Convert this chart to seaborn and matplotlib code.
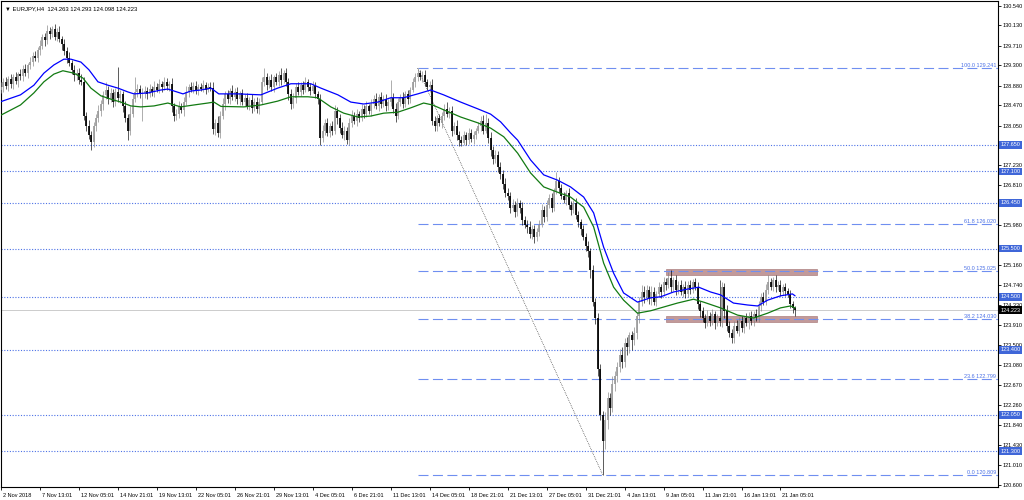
import numpy as np
import matplotlib
matplotlib.use('Agg')
import matplotlib.pyplot as plt
import seaborn as sns
from matplotlib.patches import Rectangle
from matplotlib.transforms import ScaledTranslation

# ==========================================
# 1. DATA (EURJPY H4)
# ==========================================
first_open = 128.80
closes = [
    128.85, 128.95, 128.88, 129.02, 128.92, 129.05, 128.98, 129.12, 129.08, 129.22, 129.15, 129.30, 129.38, 129.50, 129.45, 129.62, 129.70, 129.88, 129.82, 130.02,
    129.95, 130.05, 129.90, 130.00, 129.85, 129.75, 129.60, 129.45, 129.35, 129.20, 129.10, 129.15, 129.00, 128.95, 128.25, 128.05, 127.85, 127.72, 128.05, 128.20,
    128.35, 128.50, 128.68, 128.80, 128.60, 128.72, 128.55, 128.75, 128.62, 128.70, 128.45, 128.20, 127.95, 128.30, 128.60, 128.75, 128.82, 128.70, 128.72, 128.78,
    128.70, 128.82, 128.75, 128.85, 128.80, 128.92, 128.85, 128.95, 128.88, 128.92, 128.45, 128.25, 128.30, 128.45, 128.38, 128.55, 128.75, 128.85, 128.80, 128.88,
    128.78, 128.85, 128.82, 128.90, 128.80, 128.86, 128.84, 127.98, 128.10, 127.90, 128.25, 128.50, 128.70, 128.60, 128.78, 128.65, 128.75, 128.60, 128.72, 128.55,
    128.62, 128.45, 128.58, 128.42, 128.55, 128.40, 128.55, 128.95, 129.05, 128.90, 129.00, 128.85, 129.05, 128.95, 129.10, 129.00, 129.15, 128.95, 128.70, 128.50,
    128.62, 128.85, 128.75, 128.90, 128.80, 128.95, 128.85, 128.78, 128.88, 128.70, 128.60, 127.80, 127.95, 128.10, 127.90, 128.05, 127.95, 128.35, 128.20, 128.00,
    127.85, 127.95, 127.75, 128.10, 128.25, 128.15, 128.30, 128.20, 128.40, 128.30, 128.45, 128.35, 128.50, 128.60, 128.45, 128.65, 128.50, 128.60, 128.45, 128.55,
    128.62, 128.40, 128.25, 128.55, 128.65, 128.50, 128.70, 128.60, 128.80, 128.95, 129.05, 129.15, 129.05, 129.10, 128.95, 128.85, 128.90, 128.15, 128.05, 128.20,
    128.10, 128.25, 128.40, 128.30, 128.35, 127.95, 128.05, 127.85, 127.75, 127.70, 127.85, 127.75, 127.90, 127.78, 127.85, 127.95, 128.05, 128.15, 127.95, 128.10,
    127.80, 127.55, 127.35, 127.45, 127.20, 127.05, 126.85, 126.65, 126.60, 126.35, 126.40, 126.25, 126.45, 126.35, 126.10, 126.00, 125.95, 125.80, 125.90, 125.75,
    125.85, 126.00, 126.30, 126.15, 126.40, 126.55, 126.35, 126.70, 126.90, 126.75, 126.60, 126.50, 126.65, 126.40, 126.30, 126.45, 126.20, 126.05, 125.90, 125.75,
    125.55, 125.45, 125.05, 124.40, 124.05, 123.00, 122.05, 121.50, 121.95, 122.40, 122.20, 122.70, 122.85, 123.05, 123.30, 123.15, 123.55, 123.45, 123.70, 123.60,
    123.75, 124.10, 124.40, 124.60, 124.50, 124.65, 124.45, 124.60, 124.40, 124.55, 124.70, 124.60, 124.80, 124.75, 124.90, 124.70, 124.85, 124.65, 124.75, 124.60,
    124.70, 124.55, 124.75, 124.65, 124.80, 124.70, 124.35, 124.20, 124.05, 123.95, 124.10, 124.00, 124.15, 123.95, 124.05, 124.00, 124.70, 124.20, 123.90, 123.75,
    123.65, 123.90, 123.80, 124.00, 123.85, 124.05, 123.95, 124.10, 124.00, 124.15, 124.05, 124.30, 124.50, 124.40, 124.65, 124.80, 124.70, 124.85, 124.70, 124.75,
    124.60, 124.70, 124.62, 124.55, 124.35, 124.26, 124.22,
]
upper_wick = [
    .10, .08, .12, .06, .10, .08, .12, .05, .10, .08, .12, .06, .10, .08, .10, .06, .12, .08, .10, .12,
    .08, .07, .10, .08, .12, .06, .10, .08, .12, .06, .10, .08, .10, .12, .10, .08, .12, .10, .08, .10,
    .12, .08, .10, .15, .08, .12, .10, .08, .52, .10, .08, .12, .10, .15, .10, .30, .10, .08, .12, .10,
    .08, .10, .06, .12, .08, .10, .06, .10, .08, .06, .12, .08, .10, .12, .08, .10, .12, .06, .10, .08,
    .10, .06, .08, .10, .06, .08, .10, .12, .08, .15, .10, .12, .08, .10, .06, .12, .08, .10, .06, .10,
    .08, .10, .06, .12, .08, .10, .08, .12, .19, .10, .08, .12, .06, .10, .08, .15, .06, .10, .08, .12,
    .10, .08, .10, .06, .08, .10, .06, .08, .10, .08, .06, .10, .12, .08, .10, .06, .10, .12, .08, .10,
    .12, .10, .08, .10, .12, .08, .10, .06, .10, .08, .12, .06, .10, .08, .12, .06, .10, .08, .10, .06,
    .37, .10, .12, .08, .06, .10, .08, .10, .06, .08, .10, .09, .06, .08, .10, .06, .08, .12, .10, .08,
    .10, .08, .10, .15, .08, .10, .08, .12, .10, .08, .10, .06, .10, .08, .10, .06, .08, .10, .12, .20,
    .10, .12, .08, .10, .08, .10, .08, .12, .10, .08, .12, .08, .10, .06, .12, .08, .10, .12, .08, .10,
    .08, .10, .12, .08, .10, .08, .10, .06, .19, .08, .10, .08, .06, .10, .08, .06, .10, .08, .06, .10,
    .08, .10, .06, .10, .08, .12, .10, .08, .15, .12, .10, .15, .12, .10, .12, .15, .10, .12, .08, .10,
    .12, .08, .10, .15, .12, .10, .08, .12, .10, .08, .10, .06, .12, .08, .12, .16, .06, .10, .08, .10,
    .06, .12, .08, .10, .06, .08, .10, .06, .08, .10, .12, .08, .10, .06, .10, .80, .10, .08, .12, .10,
    .08, .10, .12, .08, .10, .06, .12, .08, .10, .06, .10, .12, .08, .10, .12, .15, .08, .06, .10, .08,
    .10, .06, .08, .06, .10, .06, .04,
]
lower_wick = [
    .08, .10, .06, .12, .08, .10, .06, .12, .08, .10, .06, .12, .08, .10, .06, .08, .10, .06, .12, .08,
    .10, .06, .08, .10, .06, .12, .08, .10, .06, .08, .12, .10, .08, .06, .08, .10, .08, .17, .12, .10,
    .08, .10, .12, .08, .10, .06, .12, .10, .08, .10, .12, .08, .20, .10, .08, .06, .10, .08, .55, .10,
    .10, .06, .08, .10, .06, .08, .10, .06, .08, .10, .12, .10, .08, .10, .06, .12, .08, .10, .06, .08,
    .08, .10, .06, .08, .10, .06, .08, .10, .12, .08, .10, .06, .12, .08, .10, .06, .08, .10, .12, .08,
    .10, .06, .08, .10, .06, .08, .10, .06, .08, .10, .06, .08, .10, .06, .08, .10, .06, .08, .12, .10,
    .08, .10, .06, .08, .10, .06, .08, .10, .06, .08, .10, .15, .08, .10, .06, .08, .10, .08, .12, .10,
    .06, .10, .08, .10, .08, .06, .10, .08, .06, .10, .08, .06, .10, .08, .06, .10, .08, .06, .10, .08,
    .10, .08, .12, .06, .10, .08, .06, .10, .08, .06, .10, .08, .06, .10, .08, .06, .10, .08, .12, .10,
    .06, .10, .08, .06, .10, .12, .08, .10, .12, .08, .06, .10, .08, .06, .10, .08, .06, .10, .08, .06,
    .10, .12, .10, .08, .12, .10, .12, .08, .10, .12, .08, .10, .08, .12, .10, .08, .12, .08, .10, .13,
    .10, .08, .06, .10, .08, .06, .10, .08, .06, .10, .08, .06, .10, .08, .10, .06, .08, .10, .12, .08,
    .10, .12, .15, .10, .12, .15, .10, .69, .15, .20, .15, .10, .15, .12, .10, .12, .10, .15, .12, .20,
    .10, .12, .15, .10, .12, .08, .10, .12, .08, .10, .06, .12, .08, .10, .06, .10, .08, .12, .10, .06,
    .10, .08, .06, .10, .08, .06, .10, .12, .08, .10, .06, .10, .08, .12, .06, .10, .12, .15, .10, .08,
    .11, .10, .06, .12, .08, .10, .06, .12, .08, .10, .06, .08, .10, .06, .08, .10, .06, .08, .10, .06,
    .08, .06, .10, .06, .08, .10, .12,
]

# moving averages, sampled along the curves (bar index, price)
blue_x = [0, 8, 13.5, 17.6, 21.7, 25.8, 28.7, 32.8, 36.1, 39.8, 43.9, 48, 52.1, 54.6, 60.3, 65.6, 68.5, 71, 74.7, 78,
          82, 86.2, 89.4, 97.2, 106.7, 113.6, 119, 127.2, 131.3, 138.3, 143.6, 148.9, 154.7, 160, 165.3, 171.1, 176.4, 181.7, 188.7, 195.7,
          201, 205.1, 209.2, 212.1, 217.4, 222.8, 228.5, 233.8, 239.2, 243.3, 247.4, 251.5, 255.6, 261.3, 266.7, 270.8, 276.1, 281.8, 286.4, 291.3,
          295.4, 300.7, 306.5, 310.6, 314.7, 320, 324.9, 326]
blue_ma = [128.55, 128.69, 128.89, 129.14, 129.31, 129.43, 129.43, 129.37, 129.21, 128.96, 128.89, 128.83, 128.75, 128.71, 128.73, 128.79, 128.81, 128.77, 128.71, 128.77,
           128.79, 128.83, 128.71, 128.71, 128.69, 128.83, 128.92, 128.92, 128.83, 128.69, 128.54, 128.50, 128.54, 128.63, 128.63, 128.71, 128.79, 128.69, 128.54, 128.40,
           128.29, 128.13, 127.90, 127.75, 127.34, 127.03, 126.92, 126.78, 126.57, 126.24, 125.53, 124.99, 124.58, 124.39, 124.48, 124.50, 124.60, 124.66, 124.70, 124.60,
           124.54, 124.37, 124.33, 124.31, 124.43, 124.52, 124.56, 124.52]
green_x = [0, 8, 13.5, 17.6, 21.7, 25.4, 29.9, 33.6, 36.9, 41, 45.1, 49.2, 53.3, 57.4, 62.8, 68.5, 73.8, 79.2, 84.9, 87.4,
           90.3, 99.7, 106.7, 113.6, 119, 126, 130, 135.4, 140.7, 146.5, 151.8, 157.1, 162.9, 168.2, 173.5, 177.2, 181.7, 188.7, 195.7, 201,
           206.4, 212.1, 217.4, 222.8, 228.5, 233.8, 239.2, 243.3, 247.4, 251.5, 255.6, 261.3, 266.7, 270.8, 277.7, 284.3, 288.4, 295.4, 302.4, 308.9,
           314.7, 320, 324.1, 326]
green_ma = [128.27, 128.48, 128.73, 128.96, 129.12, 129.19, 129.14, 129.04, 128.83, 128.67, 128.60, 128.54, 128.46, 128.44, 128.46, 128.52, 128.44, 128.48, 128.52, 128.54,
            128.45, 128.44, 128.48, 128.56, 128.65, 128.65, 128.63, 128.44, 128.31, 128.23, 128.25, 128.31, 128.33, 128.42, 128.52, 128.48, 128.38, 128.23, 128.11, 128.00,
            127.82, 127.48, 127.07, 126.78, 126.67, 126.57, 126.36, 125.95, 125.20, 124.70, 124.43, 124.16, 124.21, 124.27, 124.37, 124.45, 124.39, 124.27, 124.12, 124.06,
            124.16, 124.27, 124.31, 124.27]

# horizontal support / resistance levels
sr_levels = [127.650, 127.100, 126.450, 125.500, 124.500, 123.400, 122.050, 121.300]
last_price = 124.223

# fibonacci retracement
fib_anchor_bars = [171, 247]
fib_anchor_prices = [129.241, 120.809]
fib_ratios = ['100.0', '61.8', '50.0', '38.2', '23.6', '0.0']
fib_prices = [129.241, 126.020, 125.025, 124.030, 122.799, 120.809]

# range boxes
zone_start, zone_end = 273, 335
zone_bottoms = [124.95, 123.98]
zone_tops = [125.07, 124.10]

# axis labels (grid ticks hidden behind level boxes get no text)
price_ticks = [130.540, 130.130, 129.710, 129.300, 128.880, 128.470, 128.050, 127.640, 127.230, 126.810,
               126.400, 125.980, 125.570, 125.160, 124.740, 124.330, 123.910, 123.500, 123.080, 122.670,
               122.260, 121.840, 121.430, 121.010, 120.600]
hidden_ticks = [127.640, 126.400, 125.570]
date_labels = ['2 Nov 2018', '7 Nov 13:01', '12 Nov 05:01', '14 Nov 21:01', '19 Nov 13:01', '22 Nov 05:01',
               '26 Nov 21:01', '29 Nov 13:01', '4 Dec 05:01', '6 Dec 21:01', '11 Dec 13:01', '14 Dec 05:01',
               '18 Dec 21:01', '21 Dec 13:01', '27 Dec 05:01', '31 Dec 21:01', '4 Jan 13:01', '9 Jan 05:01',
               '11 Jan 21:01', '16 Jan 13:01', '21 Jan 05:01']
bars_per_label = 16
title = '▼ EURJPY,H4  124.263 124.293 124.098 124.223'

# ==========================================
# 2. FIGURE
# ==========================================
sns.set_theme(style='white')
plt.rcParams['font.family'] = ['Liberation Sans', 'DejaVu Sans']

fig = plt.figure(figsize=(10.24, 5.0), dpi=100)
ax = fig.add_axes([1 / 1024, 13 / 500, 997 / 1024, 486 / 500])
ax.set_facecolor('white')

c = np.array(closes)
o = np.array([first_open] + closes[:-1])
hi = np.maximum(o, c) + np.array(upper_wick)
lo = np.minimum(o, c) - np.array(lower_wick)
x = np.arange(len(c))
bull = c >= o

DOT_BLUE = '#4d72e6'
FIB_BLUE = '#6f8ff0'
ax.axhline(last_price, color='#c4c4c4', lw=0.6, zorder=1)
for lvl in sr_levels:
    ax.axhline(lvl, color=DOT_BLUE, lw=0.8, ls=(0, (1.0, 1.5)), zorder=1)

xmax = 409.3
for lbl, lvl in zip(fib_ratios, fib_prices):
    ax.hlines(lvl, fib_anchor_bars[0], xmax, color=FIB_BLUE, lw=0.8, ls=(0, (9, 4)), zorder=3)
    ax.text(0.998, lvl, f'{lbl} {lvl:.3f}', transform=ax.get_yaxis_transform(), ha='right',
            va='bottom', fontsize=4, color='#4d72e6', zorder=5)
ax.plot(fib_anchor_bars, fib_anchor_prices, color='#222222', lw=0.5, ls=(0, (1, 1.6)), zorder=2)

for b, t in zip(zone_bottoms, zone_tops):
    ax.add_patch(Rectangle((zone_start, b), zone_end - zone_start, t - b,
                           fc='#bc8f8f', ec='#a77878', lw=0.5, alpha=0.9, zorder=2))

# candles
ax.vlines(x[bull], lo[bull], hi[bull], color='#808080', lw=0.45, zorder=4)
ax.vlines(x[~bull], lo[~bull], hi[~bull], color='#000000', lw=0.45, zorder=4)
ax.vlines(x[bull], o[bull], c[bull], color='#9c9c9c', lw=1.25, zorder=4)
ax.vlines(x[~bull], o[~bull], c[~bull], color='#000000', lw=1.25, zorder=4)

sns.lineplot(x=blue_x, y=blue_ma, color='#0000ff', lw=0.9, ax=ax, zorder=6)
sns.lineplot(x=green_x, y=green_ma, color='#127a12', lw=0.9, ax=ax, zorder=6)

ax.set_xlim(0.29, xmax)
ax.set_ylim(120.554, 130.637)
ax.set_xlabel('')
ax.set_ylabel('')

# price axis on the right
ax.yaxis.tick_right()
ax.set_yticks(price_ticks)
ax.set_yticklabels(['' if p in hidden_ticks else f'{p:.3f}' for p in price_ticks])
ax.tick_params(axis='y', right=True, left=False, labelright=True, labelleft=False,
               length=2.2, width=0.6, pad=1.2, labelsize=4, colors='black')

tick_bars = [i * bars_per_label for i in range(len(date_labels))]
ax.set_xticks(tick_bars)
ax.set_xticklabels(date_labels, ha='left')
ax.tick_params(axis='x', bottom=True, length=2.5, width=0.6, pad=1.5, labelsize=4, colors='black')
shift = ScaledTranslation(2 / 100, 0, fig.dpi_scale_trans)
for t in ax.get_xticklabels():
    t.set_transform(t.get_transform() + shift)

for s in ax.spines.values():
    s.set_color('black')
    s.set_linewidth(0.8)

# highlighted level labels on the price axis
for lvl in sr_levels:
    ax.text(1.0025, lvl, f'{lvl:.3f}', transform=ax.get_yaxis_transform(), ha='left', va='center',
            fontsize=4, color='white', zorder=10, clip_on=False,
            bbox=dict(boxstyle='square,pad=0.25', fc='#3f66d8', ec='none'))
ax.text(1.0025, last_price, f'{last_price:.3f}', transform=ax.get_yaxis_transform(), ha='left', va='center',
        fontsize=4, color='white', zorder=10, clip_on=False,
        bbox=dict(boxstyle='square,pad=0.25', fc='black', ec='none'))

ax.text(0.004, 0.99, title, transform=ax.transAxes, ha='left', va='top', fontsize=4.2, color='black', zorder=10)

fig.savefig('out.png', dpi=100)
